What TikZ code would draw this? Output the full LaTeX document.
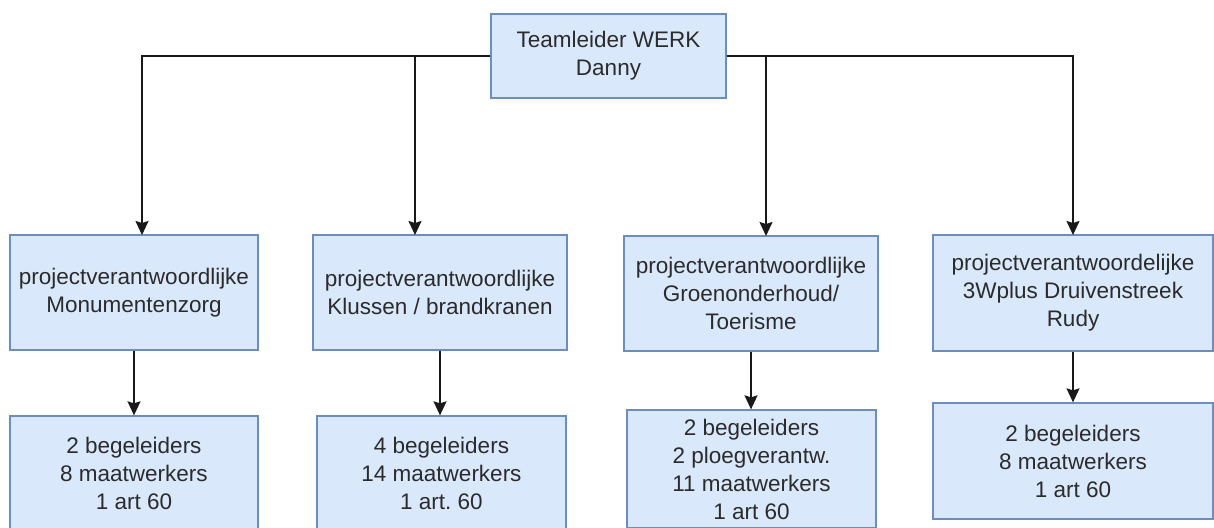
\documentclass[tikz,border=0pt]{standalone}
\usepackage{fontspec}
\setmainfont{Liberation Sans}
\usetikzlibrary{arrows.meta}
\definecolor{boxfill}{HTML}{DAE8FC}
\definecolor{boxdraw}{HTML}{6C8EBF}
\definecolor{txt}{HTML}{2B2B2B}
\frenchspacing
\begin{document}
\begin{tikzpicture}[x=1pt,y=-1pt,
  box/.style={draw=boxdraw,fill=boxfill,line width=1.3pt,inner sep=0pt,
    align=center,text=txt,font=\fontsize{22.5}{28}\selectfont},
  conn/.style={line width=1.5pt,draw=black!90,-{Stealth[length=14pt,width=13pt,inset=2pt]}}]
\useasboundingbox (0,0) rectangle (1214,527);
\clip (0,0) rectangle (1214,527);
\node[box,minimum width=235pt,minimum height=84pt] (top) at (608.5,56) {Teamleider WERK\\Danny};
\node[box,minimum width=248pt,minimum height=115pt] (a1) at (134,292.5) {projectverantwoordlijke\\Monumentenzorg};
\node[box,minimum width=254pt,minimum height=115pt] (a2) at (440,292.5) {projectverantwoordlijke\\Klussen / brandkranen};
\node[box,minimum width=254pt,minimum height=115pt] (a3) at (751,293.5) {projectverantwoordlijke\\Groenonderhoud/\\Toerisme};
\node[box,minimum width=280pt,minimum height=116pt] (a4) at (1073,293) {projectverantwoordelijke\\3Wplus Druivenstreek\\Rudy};
\node[box,minimum width=248pt,minimum height=114pt] (b1) at (134,473) {2 begeleiders\\8 maatwerkers\\1 art 60};
\node[box,minimum width=249pt,minimum height=114pt] (b2) at (441.5,473) {4 begeleiders\\14 maatwerkers\\1 art. 60};
\node[box,minimum width=249pt,minimum height=118pt] (b3) at (751.5,469) {2 begeleiders\\2 ploegverantw.\\11 maatwerkers\\1 art 60};
\node[box,minimum width=280pt,minimum height=116pt] (b4) at (1073,461) {2 begeleiders\\8 maatwerkers\\1 art 60};
\coordinate (t1) at (142,235);
\coordinate (t2) at (415,235);
\coordinate (t3) at (766,236);
\coordinate (t4) at (1073,235);
\draw[conn] (top.west) -| (t1);
\draw[conn] (top.west) -| (t2);
\draw[conn] (top.east) -| (t3);
\draw[conn] (top.east) -| (t4);
\draw[conn] (a1.south) -- (a1.south |- b1.north);
\draw[conn] (a2.south) -- (a2.south |- b2.north);
\draw[conn] (a3.south) -- (a3.south |- b3.north);
\draw[conn] (a4.south) -- (a4.south |- b4.north);
\end{tikzpicture}
\end{document}
